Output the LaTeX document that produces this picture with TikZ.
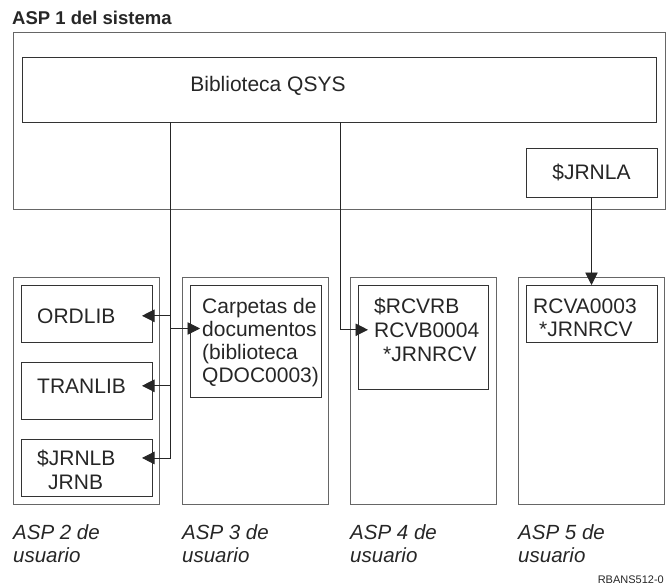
\documentclass[tikz,border=0pt]{standalone}
\usepackage{fontspec}
\setmainfont{Liberation Sans}
\usetikzlibrary{arrows.meta}

\tikzset{
  marco/.style={draw=black!60, line width=0.9pt, inner sep=0pt, outer sep=0pt, anchor=north west},
  caja/.style={marco, draw=black!80},
  txt/.style={inner sep=0pt, anchor=base west, text=black!85, font=\fontsize{21}{23}\selectfont},
  rotulo/.style={txt, font=\fontsize{20.5}{23}\selectfont\itshape},
  linea/.style={draw=black!85, line width=0.9pt},
  punta/.style={-{Triangle[length=12.5pt,width=12.5pt]}},
  flecha/.style={linea, punta, shorten >=-10pt},
}

\begin{document}
\begin{tikzpicture}[x=1pt,y=-1pt]
  \useasboundingbox (0,0) rectangle (666,586);
  % ASP del sistema
  \node[txt, font=\fontsize{18.5}{21}\selectfont\bfseries] (titulo) at (12,25) {ASP 1 del sistema};
  \node[marco, minimum width=652pt, minimum height=177pt] (asp1) at (13,32) {};
  \node[caja, minimum width=634pt, minimum height=65pt] (qsys) at (22,57) {};
  \node[txt, anchor=base] (qsysT) at (268,92) {Biblioteca QSYS};
  \node[caja, minimum width=131pt, minimum height=49pt, text=black!85,
        font=\fontsize{21}{23}\selectfont] (jrnla) at (526,148) {\$JRNLA};
  % ASP de usuario
  \foreach \n/\x in {2/13,3/182,4/350,5/518}
  	{\node[marco, minimum width=146pt, minimum height=227pt] (asp\n) at (\x,277) {};
  	 \node[rotulo] (rot\n) at (\x,539) {ASP \n\ de};
  	 \node[rotulo] (usu\n) at (\x,562) {usuario};}
  % ASP 2
  \node[caja, minimum width=131pt, minimum height=57pt] (ordlib) at (21,285) {};
  \node[caja, minimum width=131pt, minimum height=57pt] (tranlib) at (21,362) {};
  \node[caja, minimum width=131pt, minimum height=57pt] (jrnlb) at (21,439) {};
  \node[txt] (ordlibT) at (37,323) {ORDLIB};
  \node[txt] (tranlibT) at (37,393) {TRANLIB};
  \node[txt] (jrnlbA) at (37,465) {\$JRNLB};
  \node[txt] (jrnlbB) at (48,489) {JRNB};
  % ASP 3
  \node[caja, minimum width=131pt, minimum height=112pt] (carpetas) at (190,285) {};
  \foreach \t [count=\n] in {{Carpetas de},{documentos},{(biblioteca},{QDOC0003)}}
  	{\node[txt] (carp\n) at (202,290+23*\n) {\t};}
  % ASP 4
  \node[caja, minimum width=130pt, minimum height=104pt] (rcvrb) at (358,285) {};
  \node[txt] (rcvrbA) at (374,313) {\$RCVRB};
  \node[txt] (rcvrbB) at (374,337) {RCVB0004};
  \node[txt] (rcvrbC) at (383,361) {*JRNRCV};
  % ASP 5
  \node[caja, minimum width=131pt, minimum height=57pt] (rcva) at (526,285) {};
  \node[txt] (rcvaA) at (533,313) {RCVA0003};
  \node[txt] (rcvaB) at (539,336) {*JRNRCV};
  % conexiones
  \coordinate (troncoA) at (170,0);
  \coordinate (troncoB) at (340,0);
  \draw[flecha] (qsys.south -| troncoA) |- (jrnlb.east |- jrnlbA);
  \draw[flecha] (troncoA |- ordlibT) -- (ordlib.east |- ordlibT);
  \draw[flecha] (troncoA |- tranlibT) -- (tranlib.east |- tranlibT);
  \draw[flecha] (troncoA |- carp2) -- (carpetas.west |- carp2);
  \draw[flecha] (qsys.south -| troncoB) |- (rcvrb.west |- rcvrbB);
  \draw[linea, punta] (jrnla) -- (rcva.north -| jrnla);
  \node[txt, anchor=base east, font=\fontsize{11}{13}\selectfont] (ref) at (664,583) {RBANS512-0};
\end{tikzpicture}
\end{document}
